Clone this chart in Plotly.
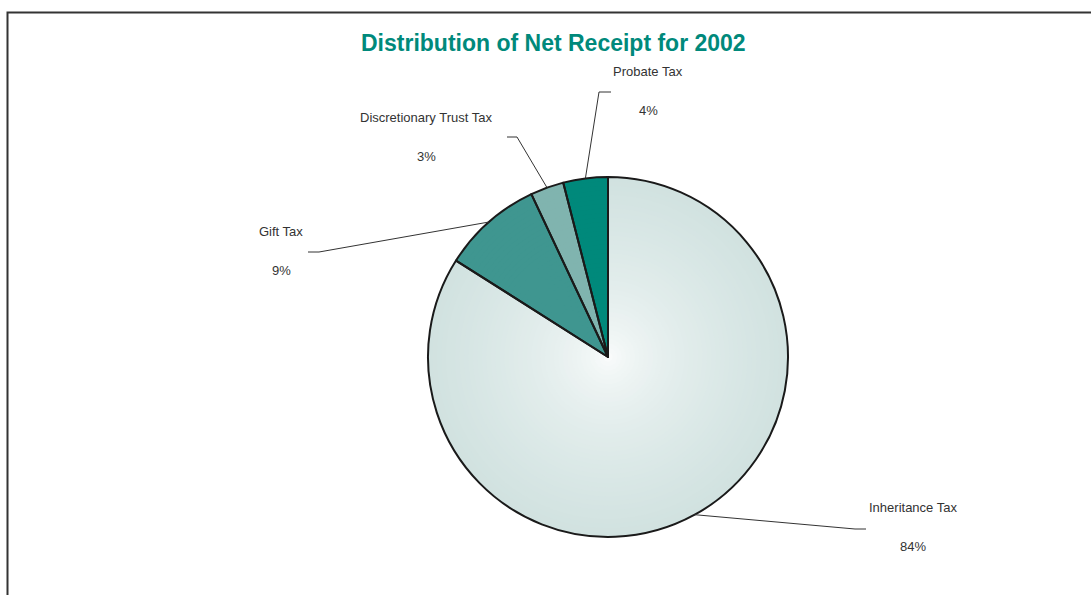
import numpy as np
import plotly.graph_objects as go

W, H = 1091, 595

# Net receipt shares for 2002 (percent), in clockwise order from 12 o'clock
categories = ["Inheritance Tax", "Gift Tax", "Discretionary Trust Tax", "Probate Tax"]
shares = [84, 9, 3, 4]
slice_colors = ["#d1e2e0", "#3f9690", "#80b4af", "#00897b"]

# pie placement in pixels
CX, CY, R = 608, 357, 180

# label text centres and leader-line elbows (pixels)
label_xy = {
    "Inheritance Tax": (913, 507),
    "Gift Tax": (281, 231),
    "Discretionary Trust Tax": (426, 117),
    "Probate Tax": (648, 71),
}
elbow_xy = {
    "Inheritance Tax": [(855, 529), (866, 529)],
    "Gift Tax": [(319, 252), (308, 252)],
    "Discretionary Trust Tax": [(517, 137), (507, 137)],
    "Probate Tax": [(599, 92), (611, 92)],
}
PCT_GAP = 39  # vertical distance from name to percentage


def domain_for(r):
    return dict(x=[(CX - r) / W, (CX + r) / W],
                y=[1 - (CY + r) / H, 1 - (CY - r) / H])


fig = go.Figure()

# base pie
fig.add_trace(go.Pie(
    labels=categories, values=shares, sort=False, direction="clockwise",
    rotation=0, textinfo="none", hoverinfo="label+percent",
    marker=dict(colors=slice_colors, line=dict(width=0)),
    domain=domain_for(R), showlegend=False,
))

# radial shading of the largest slice: concentric discs fading toward white
edge_rgb = np.array([209, 226, 224])
white = np.array([255, 255, 255])
N = 40
for k in range(1, N):
    frac = 1 - k / N
    t = frac ** 0.55
    rgb = white + (edge_rgb - white) * t
    col = "rgb(%d,%d,%d)" % tuple(np.round(rgb).astype(int))
    fig.add_trace(go.Pie(
        labels=categories, values=shares, sort=False, direction="clockwise",
        rotation=0, textinfo="none", hoverinfo="skip",
        marker=dict(colors=[col] + slice_colors[1:], line=dict(width=0)),
        domain=domain_for(R * frac), showlegend=False,
    ))

# outlines on top
fig.add_trace(go.Pie(
    labels=categories, values=shares, sort=False, direction="clockwise",
    rotation=0, textinfo="none", hoverinfo="skip",
    marker=dict(colors=["rgba(0,0,0,0)"] * len(shares),
                line=dict(color="#1a1a1a", width=2)),
    domain=domain_for(R), showlegend=False,
))

shapes = []
annotations = []
total = sum(shares)
cum = 0.0
for name, v in zip(categories, shares):
    mid = (cum + v / 2) / total * 2 * np.pi
    cum += v
    sx, sy = CX + R * np.sin(mid), CY - R * np.cos(mid)
    pts = [(sx, sy)] + elbow_xy[name]
    path = "M " + " L ".join("%.1f,%.1f" % p for p in pts)
    shapes.append(dict(type="path", path=path, xref="x", yref="y",
                       line=dict(color="#333333", width=1)))
    lx, ly = label_xy[name]
    annotations.append(dict(x=lx, y=ly, xref="x", yref="y", text=name,
                            showarrow=False, xanchor="center", yanchor="middle",
                            font=dict(size=13, color="#333333")))
    annotations.append(dict(x=lx, y=ly + PCT_GAP, xref="x", yref="y",
                            text="%d%%" % round(100 * v / total),
                            showarrow=False, xanchor="center", yanchor="middle",
                            font=dict(size=13, color="#333333")))

annotations.append(dict(x=553, y=43, xref="x", yref="y",
                        text="<b>Distribution of Net Receipt for 2002</b>",
                        showarrow=False, xanchor="center", yanchor="middle",
                        font=dict(size=23, color="#00897b")))

# chart frame
shapes.append(dict(type="rect", xref="x", yref="y", x0=7.5, y0=12.5, x1=1200, y1=700,
                   line=dict(color="#333333", width=2), fillcolor="rgba(0,0,0,0)"))

fig.update_layout(
    width=W, height=H, margin=dict(l=0, r=0, t=0, b=0),
    paper_bgcolor="white", plot_bgcolor="rgba(0,0,0,0)",
    font=dict(family="Arial, Liberation Sans, sans-serif"),
    xaxis=dict(range=[0, W], visible=False, fixedrange=True),
    yaxis=dict(range=[H, 0], visible=False, fixedrange=True),
    shapes=shapes, annotations=annotations, showlegend=False,
)

fig.write_html("out.html")
